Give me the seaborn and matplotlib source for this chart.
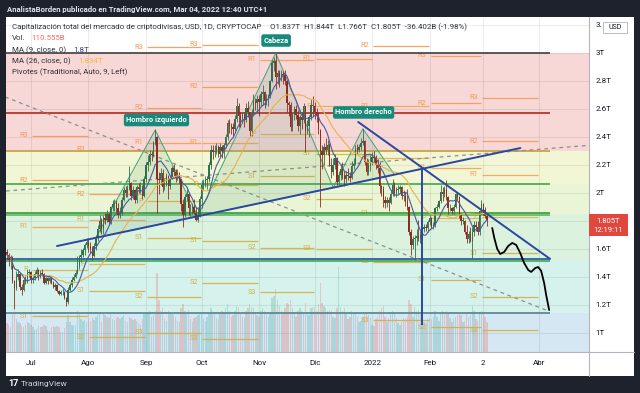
import numpy as np
import pandas as pd
import matplotlib
matplotlib.use('Agg')
import matplotlib.pyplot as plt
import matplotlib.dates as mdates
from matplotlib.patches import Rectangle, Polygon
from matplotlib.lines import Line2D
import seaborn as sns

DARK = '#1e222d'
TXT = '#131722'
W, H = 640, 393

# ---- daily candles CRYPTOCAP:TOTAL, trillion USD, 2021-06-18 .. 2022-03-04
first_day = '2021-06-18'
first_open = 1.58
close = [
    1.56, 1.52, 1.54, 1.37, 1.32, 1.40, 1.42, 1.33, 1.31, 1.38, 1.37, 1.43, 1.435,
    1.38, 1.39, 1.42, 1.45, 1.40, 1.43, 1.42, 1.36, 1.39, 1.37, 1.39, 1.36, 1.33, 1.34, 1.30, 1.28,
    1.29, 1.29, 1.25, 1.22, 1.31, 1.34, 1.38, 1.40, 1.43, 1.48, 1.54, 1.56, 1.59, 1.63, 1.65,
    1.62, 1.60, 1.55, 1.62, 1.68, 1.74, 1.80, 1.74, 1.82, 1.81, 1.85, 1.79, 1.90, 1.92, 1.93, 1.89,
    1.84, 1.86, 1.95, 2.02, 2.00, 2.03, 2.07, 1.98, 2.02, 1.95, 2.04, 2.03, 2.03, 1.98, 2.10,
    2.20, 2.22, 2.28, 2.27, 2.36, 2.40, 2.10, 2.09, 2.14, 2.04, 2.07, 2.12, 2.05, 2.11, 2.18,
    2.15, 2.11, 2.14, 2.10, 1.92, 1.84, 1.97, 1.99, 1.89, 1.89, 1.90, 1.86, 1.81, 1.84, 1.96,
    2.06, 2.07, 2.09, 2.10, 2.20, 2.31, 2.29, 2.30, 2.33, 2.28, 2.33, 2.30, 2.34, 2.40, 2.50, 2.48,
    2.47, 2.46, 2.53, 2.62, 2.55, 2.52, 2.56, 2.52, 2.61, 2.58, 2.44, 2.57, 2.65, 2.64, 2.67,
    2.65, 2.71, 2.72, 2.66, 2.67, 2.69, 2.80, 2.93, 2.94, 2.83, 2.86, 2.83, 2.85, 2.84, 2.80,
    2.64, 2.63, 2.47, 2.56, 2.60, 2.56, 2.48, 2.54, 2.52, 2.62, 2.44, 2.48, 2.54, 2.63, 2.62,
    2.58, 2.56, 2.45, 2.30, 2.27, 2.33, 2.31, 2.34, 2.20, 2.15, 2.20, 2.25, 2.08, 2.13, 2.17, 2.12,
    2.10, 2.13, 2.12, 2.11, 2.19, 2.21, 2.32, 2.31, 2.33, 2.36, 2.37, 2.22, 2.15, 2.20, 2.22,
    2.26, 2.25, 2.20, 2.18, 2.05, 2.03, 1.95, 1.93, 1.95, 1.93, 1.99, 2.06, 2.00, 2.02, 2.03, 2.04,
    1.98, 1.98, 1.94, 1.90, 1.72, 1.63, 1.67, 1.68, 1.69, 1.68, 1.70, 1.74, 1.76, 1.75, 1.79,
    1.82, 1.76, 1.77, 1.89, 1.90, 1.94, 2.01, 1.99, 2.03, 1.97, 1.89, 1.89, 1.87, 1.90,
    1.99, 1.97, 1.84, 1.80, 1.80, 1.72, 1.67, 1.71, 1.66, 1.72, 1.77, 1.76, 1.72, 1.87,
    1.92, 1.88, 1.837, 1.805,
]
high = [
    1.60, 1.57, 1.56, 1.55, 1.38, 1.44, 1.46, 1.43, 1.35, 1.39, 1.41, 1.46, 1.46,
    1.44, 1.41, 1.44, 1.47, 1.46, 1.45, 1.46, 1.43, 1.40, 1.40, 1.41, 1.40, 1.37, 1.36, 1.35, 1.31,
    1.31, 1.32, 1.30, 1.26, 1.33, 1.36, 1.40, 1.42, 1.45, 1.55, 1.56, 1.60, 1.61, 1.64, 1.68,
    1.68, 1.65, 1.62, 1.64, 1.70, 1.77, 1.84, 1.82, 1.84, 1.86, 1.88, 1.86, 1.91, 1.95, 1.96, 1.95,
    1.93, 1.90, 1.97, 2.04, 2.05, 2.06, 2.19, 2.08, 2.05, 2.03, 2.06, 2.07, 2.08, 2.06, 2.12,
    2.22, 2.27, 2.31, 2.30, 2.37, 2.46, 2.41, 2.15, 2.18, 2.17, 2.10, 2.14, 2.13, 2.13, 2.19,
    2.21, 2.17, 2.17, 2.15, 2.10, 1.96, 1.99, 2.04, 2.01, 1.92, 1.93, 1.96, 1.90, 1.89, 1.98,
    2.09, 2.10, 2.12, 2.12, 2.22, 2.34, 2.34, 2.34, 2.36, 2.34, 2.36, 2.34, 2.36, 2.42, 2.52, 2.53,
    2.50, 2.50, 2.56, 2.68, 2.64, 2.58, 2.58, 2.58, 2.64, 2.66, 2.58, 2.60, 2.71, 2.68, 2.70,
    2.70, 2.73, 2.77, 2.73, 2.71, 2.71, 2.81, 2.95, 2.97, 3.00, 2.88, 2.88, 2.88, 2.87, 2.88,
    2.81, 2.66, 2.65, 2.58, 2.62, 2.63, 2.59, 2.56, 2.58, 2.64, 2.62, 2.52, 2.56, 2.67, 2.69,
    2.65, 2.61, 2.58, 2.46, 2.34, 2.36, 2.39, 2.38, 2.36, 2.25, 2.25, 2.28, 2.26, 2.16, 2.21, 2.22,
    2.16, 2.16, 2.18, 2.15, 2.23, 2.25, 2.34, 2.35, 2.35, 2.39, 2.46, 2.38, 2.25, 2.24, 2.27,
    2.29, 2.30, 2.27, 2.24, 2.22, 2.06, 2.05, 1.98, 1.97, 1.97, 2.02, 2.10, 2.08, 2.04, 2.06, 2.06,
    2.05, 2.02, 2.01, 2.03, 1.91, 1.74, 1.69, 1.70, 1.74, 1.81, 1.73, 1.76, 1.78, 1.78, 1.81,
    1.84, 1.83, 1.79, 1.90, 1.92, 1.95, 2.06, 2.04, 2.05, 2.09, 1.98, 1.92, 1.90, 1.92,
    2.00, 2.01, 1.98, 1.86, 1.83, 1.81, 1.77, 1.73, 1.76, 1.76, 1.80, 1.80, 1.80, 1.88,
    1.95, 1.93, 1.90, 1.844,
]
low = [
    1.53, 1.48, 1.46, 1.36, 1.17, 1.31, 1.38, 1.31, 1.27, 1.30, 1.35, 1.36, 1.40,
    1.36, 1.36, 1.38, 1.41, 1.38, 1.39, 1.41, 1.35, 1.35, 1.35, 1.36, 1.35, 1.32, 1.31, 1.29, 1.27,
    1.27, 1.27, 1.24, 1.19, 1.21, 1.30, 1.33, 1.37, 1.39, 1.42, 1.46, 1.51, 1.54, 1.56, 1.61,
    1.58, 1.57, 1.52, 1.54, 1.59, 1.66, 1.72, 1.71, 1.71, 1.78, 1.79, 1.77, 1.78, 1.87, 1.87, 1.86,
    1.82, 1.82, 1.84, 1.94, 1.97, 1.97, 2.02, 1.95, 1.96, 1.93, 1.93, 2.00, 2.00, 1.96, 1.97,
    2.08, 2.16, 2.20, 2.23, 2.26, 2.34, 1.86, 1.99, 2.06, 2.01, 2.02, 2.05, 1.96, 2.03, 2.10,
    2.12, 2.08, 2.09, 2.07, 1.87, 1.76, 1.83, 1.94, 1.84, 1.83, 1.85, 1.85, 1.80, 1.79, 1.83,
    1.89, 2.02, 2.04, 2.03, 2.08, 2.17, 2.24, 2.26, 2.28, 2.26, 2.26, 2.25, 2.25, 2.32, 2.38, 2.43,
    2.42, 2.40, 2.44, 2.51, 2.47, 2.47, 2.50, 2.47, 2.51, 2.54, 2.41, 2.41, 2.55, 2.59, 2.58,
    2.55, 2.62, 2.63, 2.61, 2.63, 2.62, 2.68, 2.79, 2.87, 2.74, 2.78, 2.76, 2.80, 2.78, 2.77,
    2.58, 2.55, 2.44, 2.44, 2.52, 2.53, 2.44, 2.42, 2.46, 2.50, 2.29, 2.42, 2.40, 2.52, 2.55,
    2.53, 2.51, 2.42, 1.90, 2.17, 2.20, 2.28, 2.27, 2.19, 2.11, 2.13, 2.17, 2.06, 2.06, 2.09, 2.10,
    2.05, 2.07, 2.09, 2.08, 2.10, 2.17, 2.20, 2.28, 2.29, 2.31, 2.34, 2.20, 2.13, 2.13, 2.16,
    2.20, 2.22, 2.17, 2.14, 2.00, 1.98, 1.90, 1.89, 1.90, 1.87, 1.92, 1.98, 1.98, 1.97, 1.99, 2.00,
    1.96, 1.94, 1.91, 1.88, 1.70, 1.56, 1.60, 1.52, 1.63, 1.66, 1.64, 1.67, 1.72, 1.73, 1.72,
    1.77, 1.75, 1.74, 1.76, 1.87, 1.89, 1.93, 1.94, 1.97, 1.95, 1.85, 1.87, 1.85, 1.85,
    1.89, 1.95, 1.82, 1.77, 1.78, 1.71, 1.64, 1.64, 1.65, 1.53, 1.69, 1.73, 1.70, 1.70,
    1.85, 1.84, 1.82, 1.766,
]
# volume, billion USD
volume = [
    105, 98, 92, 140, 150, 120, 110, 105, 95, 90, 100, 110, 105,
    100, 90, 80, 85, 95, 92, 90, 100, 95, 80, 78, 90, 95, 92, 95, 90,
    75, 72, 88, 110, 135, 110, 100, 95, 98, 150, 145, 120, 115, 118, 110,
    120, 115, 125, 118, 130, 135, 140, 110, 140, 135, 130, 125, 140, 120, 118, 125,
    130, 120, 128, 135, 115, 110, 130, 125, 118, 120, 115, 105, 100, 120, 140,
    140, 145, 150, 130, 135, 150, 290, 190, 150, 160, 120, 115, 150, 145, 140,
    135, 130, 115, 110, 160, 175, 150, 140, 155, 120, 110, 125, 130, 135, 140,
    145, 120, 115, 130, 145, 160, 150, 140, 125, 120, 140, 150, 145, 160, 175, 150,
    130, 135, 150, 170, 165, 140, 130, 125, 150, 160, 175, 165, 160, 140, 135,
    130, 150, 160, 150, 140, 130, 140, 200, 204, 230, 190, 170, 150, 140, 160,
    180, 175, 190, 160, 140, 130, 150, 160, 150, 145, 180, 140, 135, 160, 165,
    165, 150, 175, 253, 180, 170, 160, 150, 155, 150, 130, 125, 160, 312, 165, 150,
    160, 140, 120, 130, 150, 140, 145, 130, 110, 115, 130, 140, 145, 135, 125,
    100, 95, 120, 130, 150, 160, 170, 130, 110, 125, 140, 150, 140, 125, 105, 100,
    110, 125, 120, 130, 190, 175, 130, 165, 150, 155, 145, 125, 110, 105, 120,
    125, 120, 130, 150, 130, 115, 145, 150, 140, 150, 145, 125, 110, 120,
    130, 135, 140, 135, 110, 115, 140, 130, 135, 168, 150, 120, 115, 145,
    150, 140, 130, 110.555,
]

# ---- monthly pivot levels (Traditional), None = off chart
piv_month = ['2021-07-01', '2021-08-01', '2021-09-01', '2021-10-01', '2021-11-01',
             '2021-12-01', '2022-01-01', '2022-02-01', '2022-03-01', '2022-04-01']
piv_R3 = [2.41, 2.31, 3.04, 3.06, None, None, None, 2.98, 2.68]
piv_R2 = [2.09, 1.99, 2.61, 2.76, None, None, 3.05, 2.64, 2.37]
piv_R1 = [1.76, 1.81, 2.36, 2.36, 2.95, 2.96, 2.62, 2.18, 2.13]
piv_P = [1.45, 1.49, 1.94, 2.06, 2.42, 2.62, 2.25, 1.82, 1.83]
piv_S1 = [1.12, 1.30, 1.68, 1.66, 2.12, 2.28, 1.85, 1.38, 1.57]
piv_S2 = [None, 0.97, 1.26, 1.36, 1.61, 1.96, 1.51, 1.04, 1.26]
piv_S3 = [None, None, 1.00, 0.96, 1.29, 1.60, 1.09, None, 1.02]

# ---- background zones and horizontal levels
zone_top = [3.30, 3.00, 2.30, 2.064, 1.85, 1.52, 1.143]
zone_bot = [3.00, 2.30, 2.064, 1.85, 1.52, 1.143, 0.80]
zone_col = ['#ffffff', '#f8d7d7', '#f3f6d5', '#eaf5d6', '#daf2de', '#d6f2ec', '#d5e7f2']
level_price = [3.0, 2.571, 2.30, 2.064, 1.857, 1.843, 1.528, 1.514, 1.143]
level_color = ['#4d4d4d', '#b8352c', '#c9a247', '#4caf50', '#43a047', '#66bb6a',
               '#2f5ea8', '#4caf50', '#5b8a94']
level_end = '2022-04-07'

# ---- drawings
hs_date = ['2021-08-05', '2021-09-06', '2021-09-29', '2021-11-10',
           '2021-12-11', '2021-12-27', '2022-01-13']
hs_price = [1.681, 2.45, 1.834, 3.0, 2.038, 2.46, 2.132]
hs_text = ['Hombro izquierdo', 'Cabeza', 'Hombro derecho']
hs_text_date = ['2021-09-06 16:00', '2021-11-10 05:00', '2021-12-27 10:00']
hs_text_price = [2.521, 3.089, 2.575]

neck_date = ['2021-07-15', '2022-03-22']
neck_price = [1.621, 2.321]
fall_date = ['2021-12-24 12:00', '2022-04-07']
fall_price = [2.507, 1.529]
target_date = '2022-01-28'
target_price = [2.17, 1.057]
dash1_date = ['2021-06-17', '2022-04-06']
dash1_price = [2.686, 1.157]
dash2_date = ['2021-06-17 12:00', '2022-04-28']
dash2_price = [2.014, 2.34]

# hand-drawn projection (days after 2021-07-01, price)
proj_day = [248.8, 249.9, 251.5, 253.1, 255.3, 257.4, 259.6, 261.7, 263.9,
            266.0, 268.2, 269.8, 272.0, 273.6, 275.2, 276.8, 277.9, 279.5]
proj_price = [1.750, 1.679, 1.600, 1.564, 1.579, 1.621, 1.643, 1.629, 1.571,
              1.500, 1.450, 1.436, 1.464, 1.471, 1.443, 1.357, 1.271, 1.164]

# ---- axes ticks (1.8T sits under the live price tag)
tick_date = ['2021-07-01', '2021-08-01', '2021-09-01', '2021-10-01', '2021-11-01',
             '2021-12-01', '2022-01-01', '2022-02-01', '2022-03-02', '2022-04-01']
tick_label = ['Jul', 'Ago', 'Sep', 'Oct', 'Nov', 'Dic', '2022', 'Feb', '2', 'Abr']
price_ticks = [1.0, 1.2, 1.4, 1.6, 2.0, 2.2, 2.4, 2.6, 2.8, 3.0, 3.2]
price_labels = ['1T', '1.2T', '1.4T', '1.6T', '2T', '2.2T', '2.4T',
                '2.6T', '2.8T', '3T', '3.']
grid_prices = [1.0, 1.2, 1.4, 1.6, 1.8, 2.0, 2.2, 2.4, 2.6, 2.8, 3.0, 3.2]


def num(d):
    return mdates.date2num(pd.Timestamp(d))


sns.set_style("white")
plt.rcParams['font.family'] = ['Roboto', 'DejaVu Sans']

dates = pd.date_range(first_day, periods=len(close), freq='D')
x = mdates.date2num(dates)
c = np.array(close)
hi = np.array(high)
lo = np.array(low)
o = np.r_[first_open, c[:-1]]
up = c >= o

xl = (num('2021-06-17 12:00'), num('2022-04-28'))
yl = (0.864, 3.257)

fig = plt.figure(figsize=(6.4, 3.93), dpi=100, facecolor=DARK)
fig.patches.append(Rectangle((6 / W, 1 - 376 / H), 628 / W, 359 / H, transform=fig.transFigure,
                             facecolor='white', edgecolor='none', zorder=-1))
rect = [6 / W, 1 - 352 / H, 583 / W, 335 / H]

# background: zones + grid
bg = fig.add_axes(rect)
bg.set_xlim(xl)
bg.set_ylim(yl)
bg.axis('off')
for t, b, col in zip(zone_top, zone_bot, zone_col):
    bg.axhspan(b, t, color=col, lw=0, zorder=0)
bg.vlines([num(d) for d in tick_date], yl[0], yl[1], color='black', alpha=0.07, lw=0.8, zorder=1)
bg.hlines(grid_prices, xl[0], xl[1], color='black', alpha=0.07, lw=0.8, zorder=1)

# volume
vax = fig.add_axes(rect)
vax.set_xlim(xl)
vax.set_ylim(0, 1230)
vax.axis('off')
vcol = [(0.15, 0.65, 0.6, 0.25) if u else (0.94, 0.33, 0.31, 0.25) for u in up]
vax.bar(x, volume, width=0.75, color=vcol, lw=0)

# main
ax = fig.add_axes(rect)
ax.patch.set_visible(False)
ax.set_xlim(xl)
ax.set_ylim(yl)

for p, col in zip(level_price, level_color):
    ax.hlines(p, xl[0], num(level_end), color=col, lw=1.3, zorder=2)

ax.plot([num(d) for d in dash1_date], dash1_price, color='#8e8e8e', lw=0.9, ls=(0, (3, 3)), zorder=2)
ax.plot([num(d) for d in dash2_date], dash2_price, color='#8e8e8e', lw=0.9, ls=(0, (3, 3)), zorder=2)

piv_sets = [('R3', piv_R3, '#f29b55'), ('R2', piv_R2, '#f29b55'), ('R1', piv_R1, '#f0a458'),
            ('P', piv_P, '#e3b340'), ('S1', piv_S1, '#d3b043'), ('S2', piv_S2, '#d3b043'),
            ('S3', piv_S3, '#d3b043')]
for name, vals, col in piv_sets:
    for i, v in enumerate(vals):
        if v is None:
            continue
        s, e = num(piv_month[i]) + 0.5, num(piv_month[i + 1]) - 0.3
        ax.hlines(v, s, e, color=col, lw=0.9, alpha=0.9, zorder=1.8)
        ax.text(s - 2.2, v, name, ha='right', va='center', fontsize=5.3, color=col, zorder=1.8)

# head & shoulders drawing
hx = [num(d) for d in hs_date]
for k in (0, 2, 4):
    tri = Polygon(list(zip(hx[k:k + 3], hs_price[k:k + 3])), closed=True,
                  facecolor=(0.3, 0.6, 0.45, 0.15), edgecolor='#3ba57a', lw=0.7, zorder=2.5)
    ax.add_patch(tri)

# candles
ccol = np.where(up, '#2f6f4e', '#8e2c21')
ax.vlines(x, lo, hi, colors=ccol, lw=0.6, zorder=3)
body = np.maximum(np.abs(c - o), 0.004)
ax.bar(x, body, bottom=np.minimum(o, c), width=0.75, color=ccol, lw=0, zorder=3.1)

# moving averages
ma9 = pd.Series(c).rolling(9, min_periods=1).mean()
ma26 = pd.Series(c).rolling(26, min_periods=1).mean()
sns.lineplot(x=x, y=ma26.values, ax=ax, color='#eab24a', lw=0.8, zorder=4)
sns.lineplot(x=x, y=ma9.values, ax=ax, color='#4a5aa0', lw=0.8, zorder=4)

# trend lines
NAVY = '#2b47a0'
ax.plot([num(d) for d in neck_date], neck_price, color=NAVY, lw=1.4, zorder=5)
ax.plot([num(d) for d in fall_date], fall_price, color=NAVY, lw=1.4, zorder=5)
ax.vlines(num(target_date), target_price[1], target_price[0], color=NAVY, lw=1.4, zorder=5)
sns.lineplot(x=num('2021-07-01') + np.array(proj_day), y=proj_price, ax=ax, sort=False,
             color='black', lw=1.3, zorder=5)

for t, d, p in zip(hs_text, hs_text_date, hs_text_price):
    ax.text(num(d), p, t, ha='center', va='center', color='white', fontsize=5.4,
            fontweight='bold', zorder=6,
            bbox=dict(boxstyle='round,pad=0.3,rounding_size=0.3', fc='#178a7c', ec='none'))

ax.set_yticks(price_ticks)
ax.set_yticklabels(price_labels)
ax.yaxis.tick_right()
ax.set_xticks([num(d) for d in tick_date])
ax.set_xticklabels(tick_label)
ax.tick_params(axis='y', length=0, pad=4.5, labelsize=5.8, labelcolor=TXT)
ax.tick_params(axis='x', length=0, pad=6, labelsize=5.8, labelcolor=TXT)
for sp in ax.spines.values():
    sp.set_visible(False)
ax.set_xlim(xl)
ax.set_ylim(yl)


def ftext(px, py, s, **kw):
    kw.setdefault('va', 'center')
    kw.setdefault('fontsize', 5.7)
    kw.setdefault('color', '#2f333d')
    fig.text(px / W, 1 - py / H, s, **kw)


def fline(xs, ys, **kw):
    fig.lines.append(Line2D([v / W for v in xs], [1 - v / H for v in ys],
                            transform=fig.transFigure, **kw))


fline([589, 589], [17, 376], color='#b2b5be', lw=0.8)
fline([6, 634], [352, 352], color='#b2b5be', lw=0.8)

ftext(7, 9, 'AnalistaBorden publicado en TradingView.com, Mar 04, 2022 12:40 UTC+1',
      color='#e0e3eb', fontsize=5.6, weight='semibold')
ftext(12, 27, 'Capitalización total del mercado de criptodivisas, USD, 1D, CRYPTOCAP')
ftext(270, 27, 'O1.837T  H1.844T  L1.766T  C1.805T  -36.402B (-1.98%)')
ftext(12, 38, 'Vol.')
ftext(31, 38, '110.555B', color='#ef6f6c')
ftext(12, 50, 'MA (9, close, 0)')
ftext(73, 50, '1.8T', color='#2f3f7f')
ftext(12, 61, 'MA (26, close, 0)')
ftext(78, 61, '1.834T', color='#f2b93e')
ftext(12, 72, 'Pivotes (Traditional, Auto, 9, Left)')

fig.patches.append(Rectangle((589 / W, 1 - 236 / H), 39 / W, 22 / H, transform=fig.transFigure,
                             facecolor='#e0483e', edgecolor='none', zorder=5))
ftext(608, 221, '1.805T', ha='center', color='white', fontsize=5.5, zorder=6)
ftext(608, 230.5, '12:19:11', ha='center', color='white', fontsize=5.5, zorder=6)
fig.patches.append(Rectangle((603 / W, 1 - 33 / H), 24 / W, 11 / H, transform=fig.transFigure,
                             facecolor='white', edgecolor='#b2b5be', lw=0.6, zorder=5))
ftext(615, 27.5, 'USD', ha='center', color=TXT, fontsize=5, zorder=6)

ftext(8, 384, '17', color='white', fontsize=6.5, weight='bold')
ftext(21, 384, 'TradingView', color='#d1d4dc', fontsize=6)

fig.savefig('out.png', dpi=100, facecolor=fig.get_facecolor())
